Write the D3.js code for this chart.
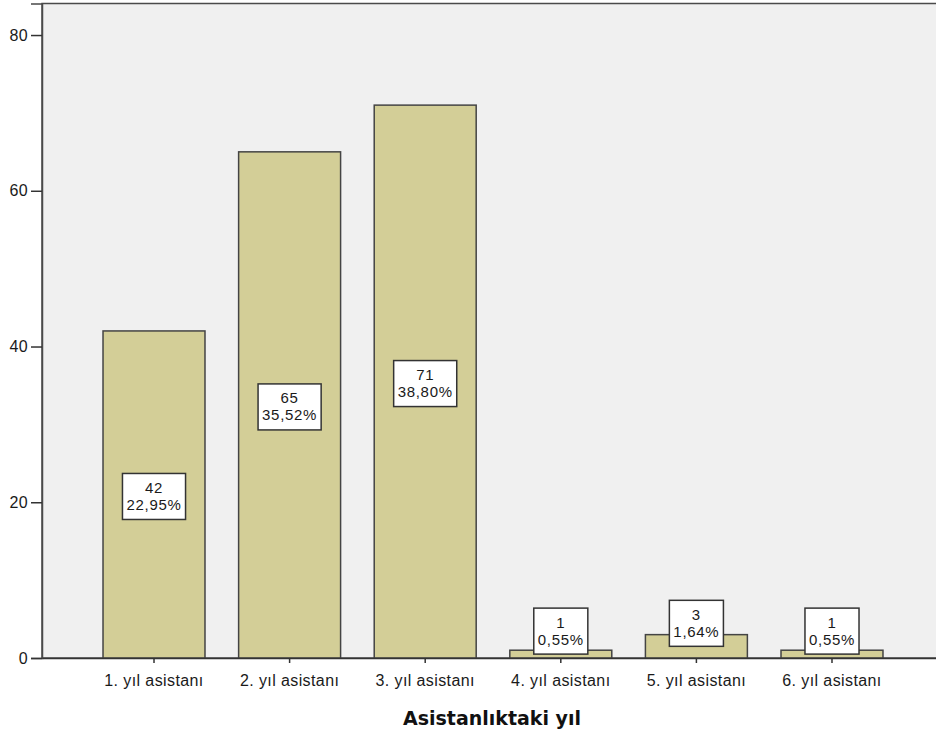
<!DOCTYPE html>
<html>
<head>
<meta charset="utf-8">
<script src="https://cdn.jsdelivr.net/npm/d3@7"></script>
<style>
  html, body { margin: 0; padding: 0; background: #fff; }
  svg { display: block; }
  .tick text { font-family: "Liberation Sans", Arial, sans-serif; font-size: 16px; fill: #1a1a1a; letter-spacing: 0.4px; }
  .lbl { font-family: "Liberation Sans", Arial, sans-serif; font-size: 15px; fill: #1a1a1a; letter-spacing: 0.7px; }
</style>
</head>
<body>
<svg id="chart" width="936" height="740"></svg>
<script>
// Residency year of the assistants: counts and their shares
const categories = ["1. yıl asistanı", "2. yıl asistanı", "3. yıl asistanı", "4. yıl asistanı", "5. yıl asistanı", "6. yıl asistanı"];
const counts = [42, 65, 71, 1, 3, 1];
const percents = ["22,95%", "35,52%", "38,80%", "0,55%", "1,64%", "0,55%"];
const yTicks = [0, 20, 40, 60, 80];
const xTitle = "Asistanlıktaki yıl";

const svg = d3.select("#chart");
const plotLeft = 42, plotTop = 3.5, plotBottom = 658, plotRight = 944;

const x = d3.scaleBand()
  .domain(categories)
  .range([plotLeft, plotRight])
  .paddingInner(0.248)
  .paddingOuter(0.45);

const y = d3.scaleLinear()
  .domain([0, 84.05])
  .range([plotBottom, plotTop]);

// plot background and frame
svg.append("rect")
  .attr("x", plotLeft).attr("y", plotTop)
  .attr("width", plotRight - plotLeft).attr("height", plotBottom - plotTop)
  .attr("fill", "#f0f0f0")
  .attr("stroke", "#4a4a4a")
  .attr("stroke-width", 1.5);

const data = categories.map((c, i) => ({ c, v: counts[i], p: percents[i] }));

// bars
svg.append("g").selectAll("rect")
  .data(data)
  .join("rect")
  .attr("x", d => x(d.c))
  .attr("width", x.bandwidth())
  .attr("y", d => y(d.v))
  .attr("height", d => y(0) - y(d.v))
  .attr("fill", "#d3ce97")
  .attr("stroke", "#444")
  .attr("stroke-width", 1.5);

// y axis
const yAxis = svg.append("g")
  .attr("transform", `translate(${plotLeft},0)`)
  .call(d3.axisLeft(y).tickValues(yTicks).tickSize(11).tickPadding(3));
yAxis.select(".domain").attr("stroke", "#4a4a4a").attr("stroke-width", 1.5);
yAxis.selectAll(".tick line").attr("stroke", "#333").attr("stroke-width", 1.5);

// x axis
const xAxis = svg.append("g")
  .attr("transform", `translate(0,${plotBottom})`)
  .call(d3.axisBottom(x).tickSize(5).tickPadding(12).tickSizeOuter(0));
xAxis.select(".domain").attr("stroke", "#333").attr("stroke-width", 1.5);
xAxis.selectAll(".tick line").attr("stroke", "#333").attr("stroke-width", 1.5);
svg.selectAll(".tick text").attr("font-family", null).attr("font-size", null);

// value labels: count and percentage in a white box
const lineGap = 17;
const lg = svg.append("g");
data.forEach(d => {
  const g = lg.append("g");
  const cx = x(d.c) + x.bandwidth() / 2;
  const box = g.append("rect").attr("fill", "#fff").attr("stroke", "#333").attr("stroke-width", 1.5);
  const t1 = g.append("text").attr("class", "lbl").attr("text-anchor", "middle").text(d.v);
  const t2 = g.append("text").attr("class", "lbl").attr("text-anchor", "middle").text(d.p);
  const w = Math.max(t1.node().getComputedTextLength(), t2.node().getComputedTextLength()) + 8;
  const h = 46;
  const barH = y(0) - y(d.v);
  const mid = (y(0) + y(d.v)) / 2;
  const cy = barH > h ? mid + 2 : mid - h / 2;
  box.attr("x", cx - w / 2).attr("y", cy - h / 2).attr("width", w).attr("height", h);
  t1.attr("x", cx).attr("y", cy - 3.5);
  t2.attr("x", cx).attr("y", cy - 3.5 + lineGap);
});

// axis title
svg.append("text")
  .attr("x", 492).attr("y", 725)
  .attr("text-anchor", "middle")
  .attr("font-family", "DejaVu Sans, sans-serif")
  .attr("font-weight", "bold")
  .attr("font-size", 19)
  .attr("fill", "#111")
  .text(xTitle);
</script>
</body>
</html>
